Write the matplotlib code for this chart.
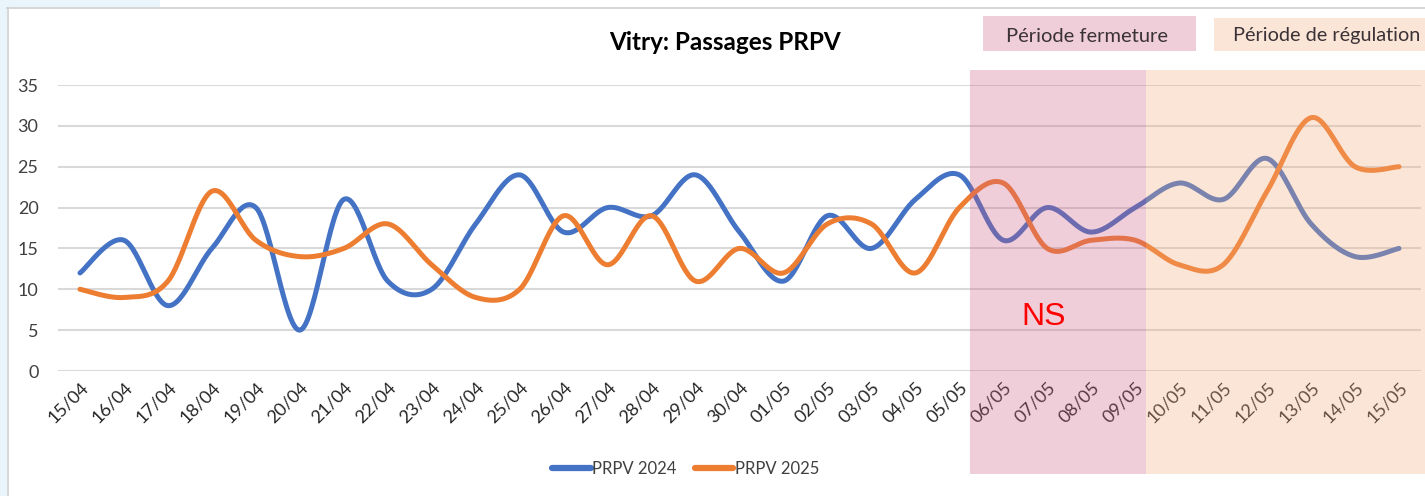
import numpy as np
import matplotlib
matplotlib.use("Agg")
import matplotlib.pyplot as plt
from matplotlib.patches import Rectangle
from matplotlib.lines import Line2D
import matplotlib.transforms as mtransforms

# ---------------- data ----------------
dates = ["15/04", "16/04", "17/04", "18/04", "19/04", "20/04", "21/04", "22/04",
         "23/04", "24/04", "25/04", "26/04", "27/04", "28/04", "29/04", "30/04",
         "01/05", "02/05", "03/05", "04/05", "05/05", "06/05", "07/05", "08/05",
         "09/05", "10/05", "11/05", "12/05", "13/05", "14/05", "15/05"]
prpv_2024 = [12, 16, 8, 15, 20, 5, 21, 11, 10, 18, 24, 17, 20, 19, 24, 17,
             11, 19, 15, 21, 24, 16, 20, 17, 20, 23, 21, 26, 18, 14, 15]
prpv_2025 = [10, 9, 11, 22, 16, 14, 15, 18, 13, 9, 10, 19, 13, 19, 11, 15,
             12, 18, 18, 12, 20, 23, 15, 16, 16, 13, 13, 22, 31, 25, 25]
series_names = ["PRPV 2024", "PRPV 2025"]
yticks = [0, 5, 10, 15, 20, 25, 30, 35]
closure_label = "Période fermeture"
regulation_label = "Période de régulation"
closure_span = ("05/05", "09/05")      # shading starts just after 05/05, ends just after 09/05
ns_label = "NS"

BLUE = "#4472C4"
ORANGE = "#ED7D31"

def smooth(xs, ys, n=30):
    """Excel-like smoothed line (Catmull-Rom as cubic Bezier)."""
    xs = np.asarray(xs, float)
    ys = np.asarray(ys, float)
    P = np.column_stack([xs, ys])
    out = []
    for i in range(len(P) - 1):
        p0 = P[i - 1] if i > 0 else P[i]
        p1 = P[i]
        p2 = P[i + 1]
        p3 = P[i + 2] if i + 2 < len(P) else P[i + 1]
        c1 = p1 + (p2 - p0) / 6.0
        c2 = p2 - (p3 - p1) / 6.0
        t = np.linspace(0, 1, n, endpoint=(i == len(P) - 2))[:, None]
        b = ((1 - t) ** 3) * p1 + 3 * ((1 - t) ** 2) * t * c1 + 3 * (1 - t) * t ** 2 * c2 + t ** 3 * p2
        out.append(b)
    out = np.vstack(out)
    return out[:, 0], out[:, 1]

plt.rcParams["font.family"] = ["Lato", "DejaVu Sans"]

W, H = 1425, 496
fig = plt.figure(figsize=(W / 100, H / 100), dpi=100)
fig.patch.set_facecolor("white")

# outer frame like the screenshot
fig.patches.append(Rectangle((0, 0), 7 / W, 1, transform=fig.transFigure,
                             facecolor="#EAF4FB", edgecolor="none", zorder=0))
fig.patches.append(Rectangle((0, 1 - 7 / H), 160 / W, 7 / H, transform=fig.transFigure,
                             facecolor="#EAF4FB", edgecolor="none", zorder=0))
fig.lines.append(Line2D([7 / W, 1], [1 - 7.5 / H, 1 - 7.5 / H], transform=fig.transFigure,
                        color="#D0D0D0", lw=1.2, zorder=0.5))
fig.lines.append(Line2D([7.5 / W, 7.5 / W], [0, 1 - 7.5 / H], transform=fig.transFigure,
                        color="#D0D0D0", lw=1.2, zorder=0.5))

left, right = 58 / W, 1421 / W
bottom, top = 1 - 371 / H, 1 - 85 / H
ax = fig.add_axes([left, bottom, right - left, top - bottom])
ax.set_facecolor("none")

x = np.arange(len(dates))
for vals, col, name in [(prpv_2024, BLUE, series_names[0]), (prpv_2025, ORANGE, series_names[1])]:
    sx, sy = smooth(x, vals)
    ax.plot(sx, sy, color=col, lw=3.6, solid_capstyle="round", label=name, zorder=3)

ax.set_xlim(-0.5, len(dates) - 0.5)
ax.set_ylim(0, 35)
ax.set_yticks(yticks)
ax.set_xticks(x)
ax.set_xticklabels(dates, rotation=45, ha="right", rotation_mode="anchor", fontsize=13, color="#262626")
ax.tick_params(axis="x", length=0, pad=6)
ax.tick_params(axis="y", length=0, pad=14, labelsize=13, labelcolor="#404040")
for lab in ax.get_xticklabels():
    lab.set_verticalalignment("top")
for s in ax.spines.values():
    s.set_visible(False)
ax.grid(axis="y", color="#D9D9D9", lw=1.5, zorder=0)
ax.set_axisbelow(True)

fig.text(725 / W, 1 - 43 / H, "Vitry: Passages PRPV", ha="center", va="center",
         fontsize=17.5, fontweight="bold", color="black")

# legend
handles = [Line2D([], [], color=BLUE, lw=4.5, solid_capstyle="round"),
           Line2D([], [], color=ORANGE, lw=4.5, solid_capstyle="round")]
fig.legend(handles, series_names, loc="center", bbox_to_anchor=(686 / W, 1 - 469 / H),
           ncol=2, frameon=False, fontsize=12, handlelength=2.3, handletextpad=0.1,
           columnspacing=1.1, labelcolor="#404040")

# shaded periods (semi-transparent overlays drawn above the chart)
trans = mtransforms.blended_transform_factory(ax.transData, fig.transFigure)
i0 = dates.index(closure_span[0]) + 0.25
i1 = dates.index(closure_span[1]) + 0.25
y0, y1 = 1 - 474 / H, 1 - 70 / H
PINK = (205 / 255, 92 / 255, 132 / 255)
PEACH = (245 / 255, 172 / 255, 125 / 255)
fig.patches.append(Rectangle((i0, y0), i1 - i0, y1 - y0, transform=trans,
                             facecolor=PINK, alpha=0.3, edgecolor="none", zorder=10))
fig.patches.append(Rectangle((i1, y0), 10, y1 - y0, transform=trans,
                             facecolor=PEACH, alpha=0.3, edgecolor="none", zorder=10))

# header boxes
fig.patches.append(Rectangle((983 / W, 1 - 51 / H), (1196 - 983) / W, 35 / H,
                             transform=fig.transFigure, facecolor=PINK, alpha=0.3,
                             edgecolor="none", zorder=10))
fig.patches.append(Rectangle((1214 / W, 1 - 51 / H), (1430 - 1214) / W, 33 / H,
                             transform=fig.transFigure, facecolor=PEACH, alpha=0.3,
                             edgecolor="none", zorder=10))
fig.text(1087 / W, 1 - 36 / H, closure_label, ha="center", va="center",
         fontsize=14.5, color="#3A3236", zorder=11)
fig.text(1233 / W, 1 - 36 / H, regulation_label, ha="left", va="center",
         fontsize=14.3, color="#3A3236", zorder=11)

fig.text(1044 / W, 1 - 317 / H, ns_label, ha="center", va="center",
         fontsize=23, color="#FF0000", family=["Liberation Sans", "DejaVu Sans"], zorder=11)

fig.savefig("out.png", dpi=100)
